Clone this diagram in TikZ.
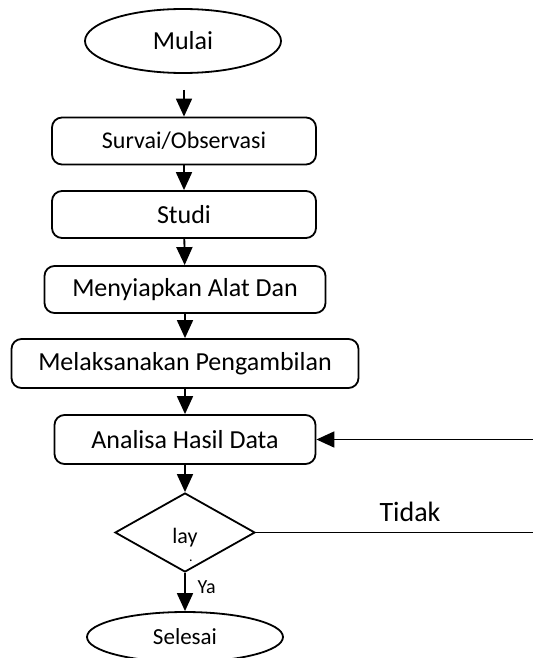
\documentclass[tikz,border=0pt]{standalone}
\usepackage{fontspec}
\setmainfont{Carlito}
\usetikzlibrary{shapes.geometric,arrows.meta}

\begin{document}
\begin{tikzpicture}[x=0.5pt,y=-0.5pt,line width=0.9pt,
    >={Triangle[width=8pt,length=9pt]},
    terminal/.style={draw,ellipse,inner sep=0pt},
    process/.style={draw,rounded corners=5pt,inner sep=0pt,minimum height=23.5pt,
      font=\fontsize{13}{15}\selectfont},
    decision/.style={draw,diamond,inner sep=0pt,minimum width=70pt,minimum height=39.5pt,
      font=\fontsize{11}{13}\selectfont}]
      \useasboundingbox (0,0) rectangle (532,658);
      \draw
        (183,41) node[terminal,minimum width=98pt,minimum height=32pt,font=\fontsize{13}{15}\selectfont] (mulai){Mulai}
        (184,90) coordinate (awal)
        (184,141) node[process,minimum width=132pt,font=\fontsize{12}{14}\selectfont] (survai){Survai/Observasi}
        (184,214.5) node[process,minimum width=132pt] (studi){Studi}
        (185,289.5) node[process,minimum width=140.5pt] (siap){Menyiapkan Alat Dan}
        (185,363.5) node[process,minimum width=173.5pt,minimum height=24.5pt] (ambil){Melaksanakan Pengambilan}
        (185,439.5) node[process,minimum width=130.5pt,minimum height=24.5pt] (analisa){Analisa Hasil Data}
        (185,532.5) node[decision] (uji){\raisebox{-2.5pt}[\height][\depth]{lay}}
        (545,532.5) coordinate (balik)
        (185,637) node[terminal,minimum width=98pt,minimum height=25pt,font=\fontsize{11.5}{13}\selectfont] (selesai){Selesai};
      \node[font=\fontsize{7}{7}\selectfont] (titik) at (191,561) {.};
      \node[font=\fontsize{14}{16}\selectfont] (tidak) at (410,512) {Tidak};
      \node[font=\fontsize{10}{12}\selectfont,anchor=west] (ya) at (190,587) {Ya};
      \begin{scope}[->]
        \draw (awal) to (survai);
        \draw (survai) to (studi);
        \draw (studi) to (siap);
        \draw (siap) to (ambil);
        \draw (ambil) to (analisa);
        \draw (analisa) to (uji);
        \draw (uji) to (selesai);
        \draw (uji.east) -- (balik) |- (analisa.east);
      \end{scope}
    \end{tikzpicture}
\end{document}
